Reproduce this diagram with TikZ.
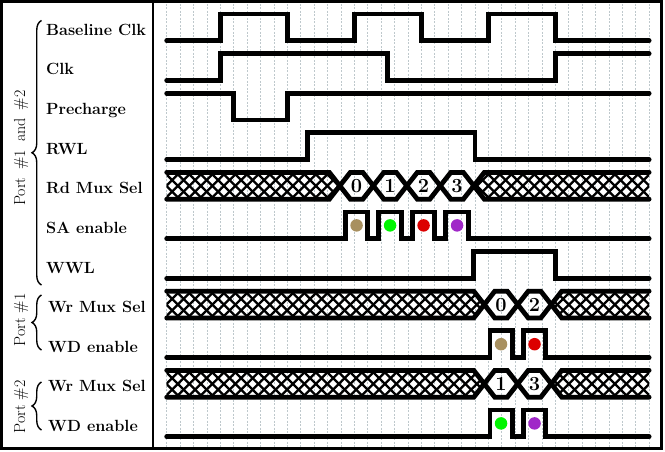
\documentclass[tikz,border=0pt]{standalone}
\usetikzlibrary{decorations.pathreplacing}
\definecolor{gridc}{RGB}{190,200,204}
\definecolor{dtan}{RGB}{168,144,96}
\definecolor{dgreen}{RGB}{0,245,0}
\definecolor{dred}{RGB}{220,0,0}
\definecolor{dpurple}{RGB}{160,40,200}
\newcommand\drawbus[4]{%
  \pgfmathsetmacro\busT{hy(#1)}%
  \pgfmathsetmacro\busB{ly(#1)}%
  \pgfmathsetmacro\busM{my(#1)}%
  \pgfmathsetmacro\busF{tx(#2)}%
  \pgfmathsetmacro\busL{tx(#2+2.5*#3)}%
  \begin{scope}
    \clip ({tx(0)},\busT) -- ({\busF-10.5},\busT) -- (\busF,\busM) -- ({\busF-10.5},\busB) -- ({tx(0)},\busB) -- cycle
          ({\busL+10.5},\busT) -- ({tx(36)},\busT) -- ({tx(36)},\busB) -- ({\busL+10.5},\busB) -- (\busL,\busM) -- cycle;
    \foreach \k in {0,...,48}{
      \draw[hatchline] ({130+11.5*\k},\busT) -- ++(26.8,26.8);
      \draw[hatchline] ({130+11.5*\k},\busB) -- ++(26.8,-26.8);
    }
  \end{scope}
  \draw[sig] ({tx(0)},\busT) \foreach \k in {0,...,#3}{ -- ({tx(#2+2.5*\k)-10.5},{\busT+26.8*mod(\k,2)}) -- ({tx(#2+2.5*\k)+10.5},{\busT+26.8*mod(\k+1,2)}) } -- ({tx(36)},{\busT+26.8*mod(#3+1,2)});
  \draw[sig] ({tx(0)},\busB) \foreach \k in {0,...,#3}{ -- ({tx(#2+2.5*\k)-10.5},{\busT+26.8*mod(\k+1,2)}) -- ({tx(#2+2.5*\k)+10.5},{\busT+26.8*mod(\k,2)}) } -- ({tx(36)},{\busT+26.8*mod(#3,2)});
  \foreach \lab [count=\k from 0] in {#4} \node[digit] (bus#1-\k) at ({tx(#2+1.25+2.5*\k)},\busM) {\lab};
}
\begin{document}
\begin{tikzpicture}[x=1pt,y=-1pt,
  declare function={tx(\t)=166.7+13.4*\t; hy(\i)=14+39.6*\i; ly(\i)=40.8+39.6*\i; my(\i)=27.4+39.6*\i;},
  sig/.style={line width=4.8pt, line cap=round},
  hatchline/.style={line width=2.3pt},
  lab/.style={font=\fontsize{16.2}{19}\selectfont\bfseries, anchor=base west, inner sep=0pt},
  digit/.style={font=\fontsize{20}{24}\selectfont\bfseries, inner sep=0pt},
  portlab/.style={font=\fontsize{16}{19}\selectfont, rotate=90, anchor=base, inner sep=0pt},
  brc/.style={decorate, decoration={brace, amplitude=9.5pt}, line width=1.4pt},
  gridline/.style={gridc, line width=0.7pt, dash pattern=on 2pt off 1.5pt},
  dot/.style={circle, inner sep=0pt, minimum size=12.5pt}
]
\useasboundingbox (0,0) rectangle (665,452);
% grid
\foreach \k in {0,...,36} \draw[gridline] ({tx(\k)},4) -- ({tx(\k)},447);
% frame
\draw[line width=3pt] (1.5,1.5) rectangle (661.5,448.5);
\draw[line width=2pt] (153.3,1.5) -- (153.3,448.5);
% labels
\node[lab] (l0) at (46,{my(0)+8}) {Baseline Clk};
\node[lab] (l1) at (46,{my(1)+8}) {Clk};
\node[lab] (l2) at (46,{my(2)+8}) {Precharge};
\node[lab] (l3) at (46,{my(3)+8}) {RWL};
\node[lab] (l4) at (46,{my(4)+8}) {Rd Mux Sel};
\node[lab] (l5) at (46,{my(5)+8}) {SA enable};
\node[lab] (l6) at (46,{my(6)+8}) {WWL};
\node[lab] (l7) at (48,{my(7)+8}) {Wr Mux Sel};
\node[lab] (l8) at (48,{my(8)+8}) {WD enable};
\node[lab] (l9) at (48,{my(9)+8}) {Wr Mux Sel};
\node[lab] (l10) at (48,{my(10)+8}) {WD enable};
% braces and group labels
\draw[brc] (41.5,285) -- (41.5,20.5);
\draw[brc] (41.5,350) -- (41.5,295);
\draw[brc] (41.5,430) -- (41.5,382);
\node[portlab] (g0) at (25,148) {Port\hspace{8pt}\#1\hspace{8pt}and\hspace{8pt}\#2};
\node[portlab] (g1) at (25,320) {Port \#1};
\node[portlab] (g2) at (25,407) {Port \#2};
% signals
\draw[sig] ({tx(0)},{ly(0)}) -| ({tx(4)},{hy(0)}) -| ({tx(9)},{ly(0)}) -| ({tx(14)},{hy(0)}) -| ({tx(19)},{ly(0)}) -| ({tx(24)},{hy(0)}) -| ({tx(29)},{ly(0)}) -- ({tx(36)},{ly(0)});
\draw[sig] ({tx(0)},{ly(1)}) -| ({tx(4)},{hy(1)}) -| ({tx(16.5)},{ly(1)}) -| ({tx(29)},{hy(1)}) -- ({tx(36)},{hy(1)});
\draw[sig] ({tx(0)},{hy(2)}) -| ({tx(5)},{ly(2)}) -| ({tx(9)},{hy(2)}) -- ({tx(36)},{hy(2)});
\draw[sig] ({tx(0)},{ly(3)}) -| ({tx(10.5)},{hy(3)}) -| ({tx(23)},{ly(3)}) -- ({tx(36)},{ly(3)});
\drawbus{4}{12.92}{4}{0,1,2,3}
\draw[sig] ({tx(0)},{ly(5)}) -| ({tx(13.33)},{hy(5)}) -| ({tx(15)},{ly(5)}) -| ({tx(15.83)},{hy(5)}) -| ({tx(17.5)},{ly(5)}) -| ({tx(18.33)},{hy(5)}) -| ({tx(20)},{ly(5)}) -| ({tx(20.83)},{hy(5)}) -| ({tx(22.5)},{ly(5)}) -- ({tx(36)},{ly(5)});
\draw[sig] ({tx(0)},{ly(6)}) -| ({tx(22.9)},{hy(6)}) -| ({tx(29)},{ly(6)}) -- ({tx(36)},{ly(6)});
\drawbus{7}{23.7}{2}{0,2}
\draw[sig] ({tx(0)},{ly(8)}) -| ({tx(24.12)},{hy(8)}) -| ({tx(25.78)},{ly(8)}) -| ({tx(26.62)},{hy(8)}) -| ({tx(28.28)},{ly(8)}) -- ({tx(36)},{ly(8)});
\drawbus{9}{23.7}{2}{1,3}
\draw[sig] ({tx(0)},{ly(10)}) -| ({tx(24.12)},{hy(10)}) -| ({tx(25.78)},{ly(10)}) -| ({tx(26.62)},{hy(10)}) -| ({tx(28.28)},{ly(10)}) -- ({tx(36)},{ly(10)});
% dots
\node[dot, fill=dtan] (d1) at ({tx(14.17)},{my(5)}) {};
\node[dot, fill=dgreen] (d2) at ({tx(16.67)},{my(5)}) {};
\node[dot, fill=dred] (d3) at ({tx(19.17)},{my(5)}) {};
\node[dot, fill=dpurple] (d4) at ({tx(21.67)},{my(5)}) {};
\node[dot, fill=dtan] (d5) at ({tx(24.95)},{my(8)}) {};
\node[dot, fill=dred] (d6) at ({tx(27.45)},{my(8)}) {};
\node[dot, fill=dgreen] (d7) at ({tx(24.95)},{my(10)}) {};
\node[dot, fill=dpurple] (d8) at ({tx(27.45)},{my(10)}) {};
\end{tikzpicture}
\end{document}
